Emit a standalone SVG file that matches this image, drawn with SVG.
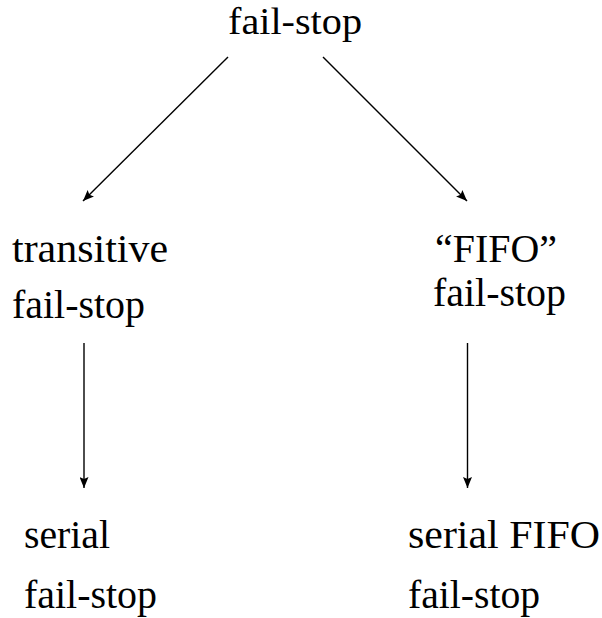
<svg xmlns="http://www.w3.org/2000/svg" width="602" height="618" viewBox="0 0 602 618">
<defs>
<style>
text{font-family:"Liberation Serif","DejaVu Serif",serif;font-size:39px;fill:#000}
.c line{stroke:#000;stroke-width:1.4;fill:none}
</style>
<marker id="ah" markerWidth="12" markerHeight="9" refX="11" refY="4.5" orient="auto" markerUnits="userSpaceOnUse">
<path d="M0,0 L11,4.5 L0,9 L2,4.5 Z" fill="#000"/>
</marker>
</defs>
<rect width="602" height="618" fill="#fff"/>
<g id="n-failstop"><text x="228" y="34" style="font-size:37px" textLength="134" lengthAdjust="spacingAndGlyphs">fail-stop</text></g>
<g id="n-transitive">
<text x="12" y="262" textLength="156" lengthAdjust="spacingAndGlyphs">transitive</text>
<text x="12" y="318" textLength="133" lengthAdjust="spacingAndGlyphs">fail-stop</text>
</g>
<g id="n-fifo">
<text x="435" y="262" textLength="122" lengthAdjust="spacingAndGlyphs">“FIFO”</text>
<text x="433" y="306" textLength="133" lengthAdjust="spacingAndGlyphs">fail-stop</text>
</g>
<g id="n-serial">
<text x="24" y="548" textLength="86" lengthAdjust="spacingAndGlyphs">serial</text>
<text x="24" y="608" textLength="133" lengthAdjust="spacingAndGlyphs">fail-stop</text>
</g>
<g id="n-serialfifo">
<text x="408" y="548" textLength="192" lengthAdjust="spacingAndGlyphs">serial FIFO</text>
<text x="408" y="608" textLength="132" lengthAdjust="spacingAndGlyphs">fail-stop</text>
</g>
<g id="connectors" class="c">
<line x1="228" y1="57" x2="83" y2="201" marker-end="url(#ah)"/>
<line x1="323" y1="57" x2="467" y2="201" marker-end="url(#ah)"/>
<line x1="84" y1="343" x2="84" y2="488" marker-end="url(#ah)"/>
<line x1="467.5" y1="343" x2="467.5" y2="488" marker-end="url(#ah)"/>
</g>
</svg>
